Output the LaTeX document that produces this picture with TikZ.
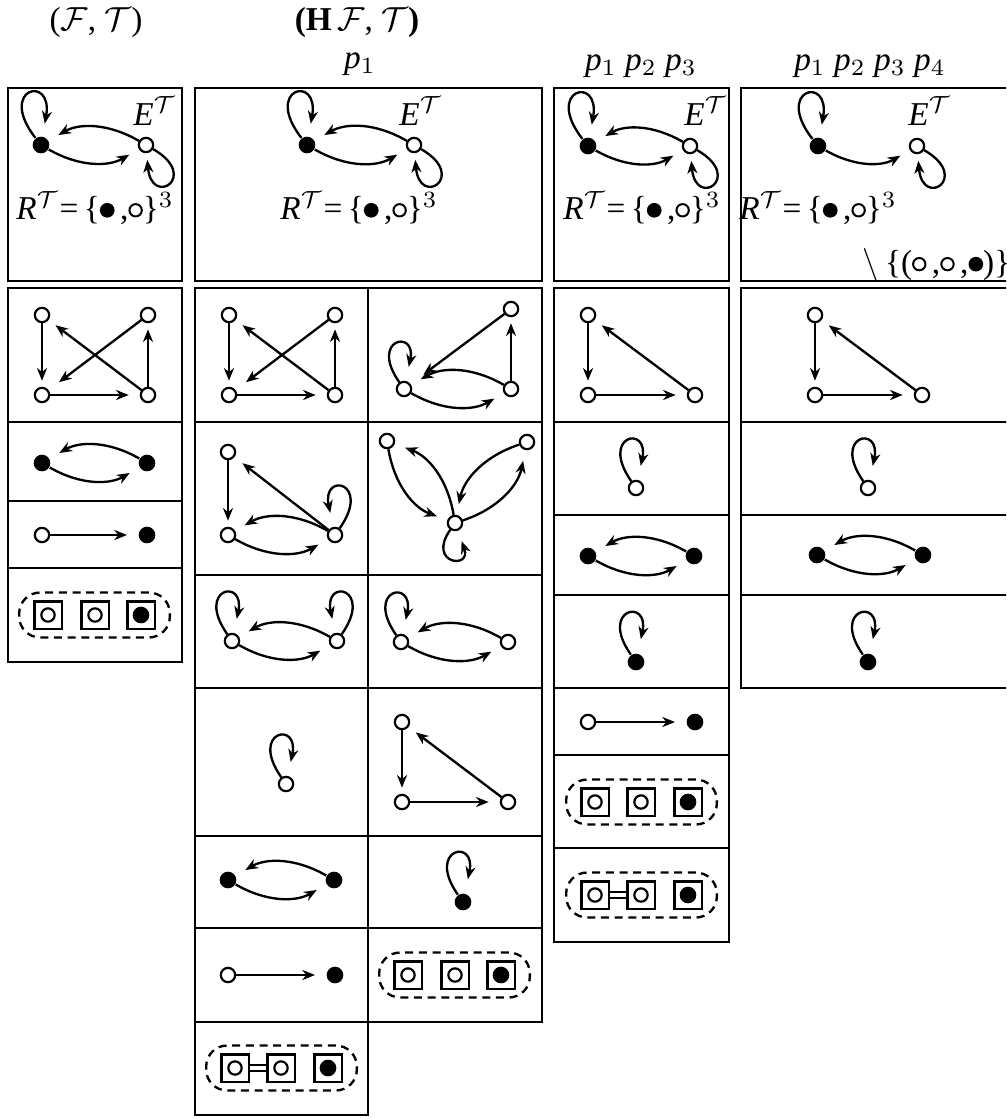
\documentclass[tikz,border=0pt]{standalone}
\usepackage{amsmath}
\usepackage{fontspec}
\setmainfont{Liberation Serif}
\usepackage{tikz}
\usetikzlibrary{arrows.meta,fit}

\newcommand{\bsym}{\tikz[baseline=-0.6ex]\fill (0,0) circle (2.2pt);}
\newcommand{\wsym}{\tikz[baseline=-0.6ex]\draw[line width=0.6pt] (0,0) circle (1.85pt);}

\begin{document}
\begin{tikzpicture}[
    x=0.3pt, y=-0.3pt,
    >={Stealth[length=3.8pt,width=3pt,inset=1.2pt]},
    box/.style={draw, line width=0.8pt},
    wv/.style={circle, draw, fill=white, line width=0.65pt, inner sep=0pt, minimum size=4.3pt},
    bv/.style={circle, fill=black, inner sep=0pt, minimum size=5pt},
    arr/.style={->, line width=0.7pt, shorten >=1.8pt},
    arrl/.style={arr, shorten >=3.3pt},
    twin/.style={->, line width=0.7pt, bend right=30, shorten >=3.3pt},
    lup/.style={->, line width=0.7pt, out=125, in=78, min distance=17pt, shorten >=4.3pt},
    lupr/.style={->, line width=0.7pt, out=55, in=102, min distance=17pt, shorten >=4.3pt},
    ldn/.style={->, line width=0.7pt, out=235, in=-70, min distance=12.5pt, shorten >=3.3pt},
    lbk/.style={lup, out=128, in=80, min distance=19pt, shorten >=3.8pt},
    lwh/.style={->, line width=0.7pt, out=-30, in=-85, min distance=16.5pt, shorten >=2pt},
    sq/.style={draw, line width=0.7pt, inner sep=0pt, minimum size=8.2pt},
    sqw/.style={sq, path picture={\draw[line width=0.65pt] (path picture bounding box.center) circle (2pt);}},
    sqb/.style={sq, path picture={\fill (path picture bounding box.center) circle (2.5pt);}},
    grp/.style={draw, line width=0.7pt, dash pattern=on 2.4pt off 1.7pt, rounded corners=6.3pt,
                inner xsep=4.2pt, inner ysep=2.3pt},
    dbl/.style={double, line width=0.45pt, double distance=1.3pt}
]
\useasboundingbox (0,0) rectangle (1006,1119);
\clip (0,0) rectangle (1006,1119);

\node (hf) at (96,22) {($\mathcal{F}$, $\mathcal{T}$)};
\node (hh) at (357,22) {\textbf{(H}\,$\mathcal{F}$, $\mathcal{T}$\textbf{)}};
\node (pb) at (360,64) {\textit{p}$_1$};
\node (pd) at (641,66) {\textit{p}$_1$ \textit{p}$_2$ \textit{p}$_3$};
\node (pe) at (870,66) {\textit{p}$_1$ \textit{p}$_2$ \textit{p}$_3$ \textit{p}$_4$};

\draw[box] (8,88) rectangle (182,281) (195,88) rectangle (542,281)
    (554,88) rectangle (729,281) (741,88) rectangle (1020,281);
\draw[box] (8,288) rectangle (182,662)
    (8,422) -- (182,422) (8,501) -- (182,501) (8,568) -- (182,568);
\draw[box] (195,288) rectangle (368,1115) (368,288) rectangle (542,1022)
    (195,422) -- (542,422) (195,575) -- (542,575) (195,688) -- (542,688)
    (195,836) -- (542,836) (195,928) -- (542,928) (195,1022) -- (368,1022);
\draw[box] (554,288) rectangle (729,942)
    (554,422) -- (729,422) (554,515) -- (729,515) (554,595) -- (729,595)
    (554,688) -- (729,688) (554,755) -- (729,755) (554,848) -- (729,848);
\draw[box] (741,288) rectangle (1020,688)
    (741,422) -- (1020,422) (741,515) -- (1020,515) (741,595) -- (1020,595);

\node[bv] (a01) at (41,145) {};
\node[wv] (a02) at (146,145) {};
\node (ae) at (155,111) {\textit{E\/}$^{\mathcal{T}}$};
\node (ar) at (95,208) {\textit{R\/}$^{\mathcal{T}}$=\,\{\bsym\,,\wsym\}$^3$};
\draw[lbk] (a01) to (a01);
\draw[lwh] (a02) to (a02);
\draw[twin] (a02) to (a01);
\draw[twin] (a01) to (a02);

\node[bv] (b01) at (307,145) {};
\node[wv] (b02) at (414,145) {};
\node (be) at (421,111) {\textit{E\/}$^{\mathcal{T}}$};
\node (br) at (359,208) {\textit{R\/}$^{\mathcal{T}}$=\,\{\bsym\,,\wsym\}$^3$};
\draw[lbk] (b01) to (b01);
\draw[lwh] (b02) to (b02);
\draw[twin] (b02) to (b01);
\draw[twin] (b01) to (b02);

\node[bv] (d01) at (588,146) {};
\node[wv] (d02) at (690,146) {};
\node (de) at (706,111) {\textit{E\/}$^{\mathcal{T}}$};
\node (dr) at (642,208) {\textit{R\/}$^{\mathcal{T}}$=\,\{\bsym\,,\wsym\}$^3$};
\draw[lbk] (d01) to (d01);
\draw[lwh] (d02) to (d02);
\draw[twin] (d02) to (d01);
\draw[twin] (d01) to (d02);

\node[bv] (e01) at (818,146) {};
\node[wv] (e02) at (917,146) {};
\node (ee) at (930,111) {\textit{E\/}$^{\mathcal{T}}$};
\node (er) at (818,208) {\textit{R\/}$^{\mathcal{T}}$=\,\{\bsym\,,\wsym\}$^3$};
\node[anchor=west] (es) at (851,265) {$\setminus$\,\{(\wsym\,,\wsym\,,\bsym)\}};
\draw[lbk] (e01) to (e01);
\draw[lwh] (e02) to (e02);
\draw[twin] (e01) to (e02);

\node[wv] (a11) at (42,315) {};
\node[wv] (a12) at (148,315) {};
\node[wv] (a13) at (42,395) {};
\node[wv] (a14) at (148,395) {};
\draw[arr] (a11) -- (a13);
\draw[arrl] (a13) -- (a14);
\draw[arr] (a14) -- (a12);
\draw[arr, shorten >=3.9pt] (a12) -- (a13);
\draw[arr, shorten >=2.6pt] (a14) -- (a11);

\node[bv] (a21) at (42,463) {};
\node[bv] (a22) at (147,463) {};
\draw[twin] (a22) to (a21);
\draw[twin] (a21) to (a22);

\node[wv] (a31) at (42,535) {};
\node[bv] (a32) at (147,535) {};
\draw[arrl] (a31) -- (a32);

\node[sqw] (a41) at (48,615) {};
\node[sqw] (a42) at (95,615) {};
\node[sqb] (a43) at (141,615) {};
\node[grp, fit=(a41)(a43)] (a4) {};

\node[wv] (b11) at (229,315) {};
\node[wv] (b12) at (335,315) {};
\node[wv] (b13) at (229,395) {};
\node[wv] (b14) at (335,395) {};
\draw[arr] (b11) -- (b13);
\draw[arrl] (b13) -- (b14);
\draw[arr] (b14) -- (b12);
\draw[arr, shorten >=3.9pt] (b12) -- (b13);
\draw[arr, shorten >=2.6pt] (b14) -- (b11);

\node[wv] (c11) at (511,309) {};
\node[wv] (c12) at (511,389) {};
\node[wv] (c13) at (404,389) {};
\draw[arr] (c12) -- (c11);
\draw[arr, shorten >=4.8pt] (c11) -- (c13);
\draw[twin] (c12) to (c13);
\draw[twin] (c13) to (c12);
\draw[lup, min distance=16pt] (c13) to (c13);

\node[wv] (b21) at (228,452) {};
\node[wv] (b22) at (228,535) {};
\node[wv] (b23) at (335,535) {};
\draw[arr] (b21) -- (b22);
\draw[arr, shorten >=3pt] (b23) -- (b21);
\draw[twin] (b23) to (b22);
\draw[twin] (b22) to (b23);
\draw[lupr] (b23) to (b23);

\node[wv] (c21) at (387,441) {};
\node[wv] (c22) at (527,442) {};
\node[wv] (c23) at (455,523) {};
\draw[twin] (c21) to (c23);
\draw[twin] (c23) to (c21);
\draw[twin] (c23) to (c22);
\draw[twin] (c22) to (c23);
\draw[ldn] (c23) to (c23);

\node[wv] (b31) at (232,641) {};
\node[wv] (b32) at (337,641) {};
\draw[twin] (b32) to (b31);
\draw[twin] (b31) to (b32);
\draw[lup] (b31) to (b31);
\draw[lupr] (b32) to (b32);

\node[wv] (c31) at (401,642) {};
\node[wv] (c32) at (508,642) {};
\draw[twin] (c32) to (c31);
\draw[twin] (c31) to (c32);
\draw[lup] (c31) to (c31);

\node[wv] (b41) at (286,784) {};
\draw[lup] (b41) to (b41);

\node[wv] (c41) at (402,722) {};
\node[wv] (c42) at (402,802) {};
\node[wv] (c43) at (508,802) {};
\draw[arr] (c41) -- (c42);
\draw[arrl] (c42) -- (c43);
\draw[arr, shorten >=2.7pt] (c43) -- (c41);

\node[bv] (b51) at (228,880) {};
\node[bv] (b52) at (334,880) {};
\draw[twin] (b52) to (b51);
\draw[twin] (b51) to (b52);

\node[bv] (c51) at (463,902) {};
\draw[lup] (c51) to (c51);

\node[wv] (b61) at (228,975) {};
\node[bv] (b62) at (335,975) {};
\draw[arrl] (b61) -- (b62);

\node[sqw] (c61) at (408,975) {};
\node[sqw] (c62) at (455,975) {};
\node[sqb] (c63) at (501,975) {};
\node[grp, fit=(c61)(c63)] (c6) {};

\node[sqw] (b71) at (235,1068) {};
\node[sqw] (b72) at (281,1068) {};
\node[sqb] (b73) at (328,1068) {};
\draw[dbl] (b71) -- (b72);
\node[grp, fit=(b71)(b73)] (b7) {};

\node[wv] (d11) at (588,315) {};
\node[wv] (d12) at (588,395) {};
\node[wv] (d13) at (695,395) {};
\draw[arr] (d11) -- (d12);
\draw[arrl] (d12) -- (d13);
\draw[arr, shorten >=2.7pt] (d13) -- (d11);

\node[wv] (d21) at (636,488) {};
\draw[lup] (d21) to (d21);

\node[bv] (d31) at (588,556) {};
\node[bv] (d32) at (694,556) {};
\draw[twin] (d32) to (d31);
\draw[twin] (d31) to (d32);

\node[bv] (d41) at (636,662) {};
\draw[lup] (d41) to (d41);

\node[wv] (d51) at (588,722) {};
\node[bv] (d52) at (695,722) {};
\draw[arrl] (d51) -- (d52);

\node[sqw] (d61) at (595,802) {};
\node[sqw] (d62) at (641,802) {};
\node[sqb] (d63) at (688,802) {};
\node[grp, fit=(d61)(d63)] (d6) {};

\node[sqw] (d71) at (595,895) {};
\node[sqw] (d72) at (641,895) {};
\node[sqb] (d73) at (688,895) {};
\draw[dbl] (d71) -- (d72);
\node[grp, fit=(d71)(d73)] (d7) {};

\node[wv] (e11) at (815,315) {};
\node[wv] (e12) at (815,395) {};
\node[wv] (e13) at (922,395) {};
\draw[arr] (e11) -- (e12);
\draw[arrl] (e12) -- (e13);
\draw[arr, shorten >=2.7pt] (e13) -- (e11);

\node[wv] (e21) at (868,488) {};
\draw[lup] (e21) to (e21);

\node[bv] (e31) at (817,555) {};
\node[bv] (e32) at (923,555) {};
\draw[twin] (e32) to (e31);
\draw[twin] (e31) to (e32);

\node[bv] (e41) at (868,662) {};
\draw[lup] (e41) to (e41);
\end{tikzpicture}
\end{document}
